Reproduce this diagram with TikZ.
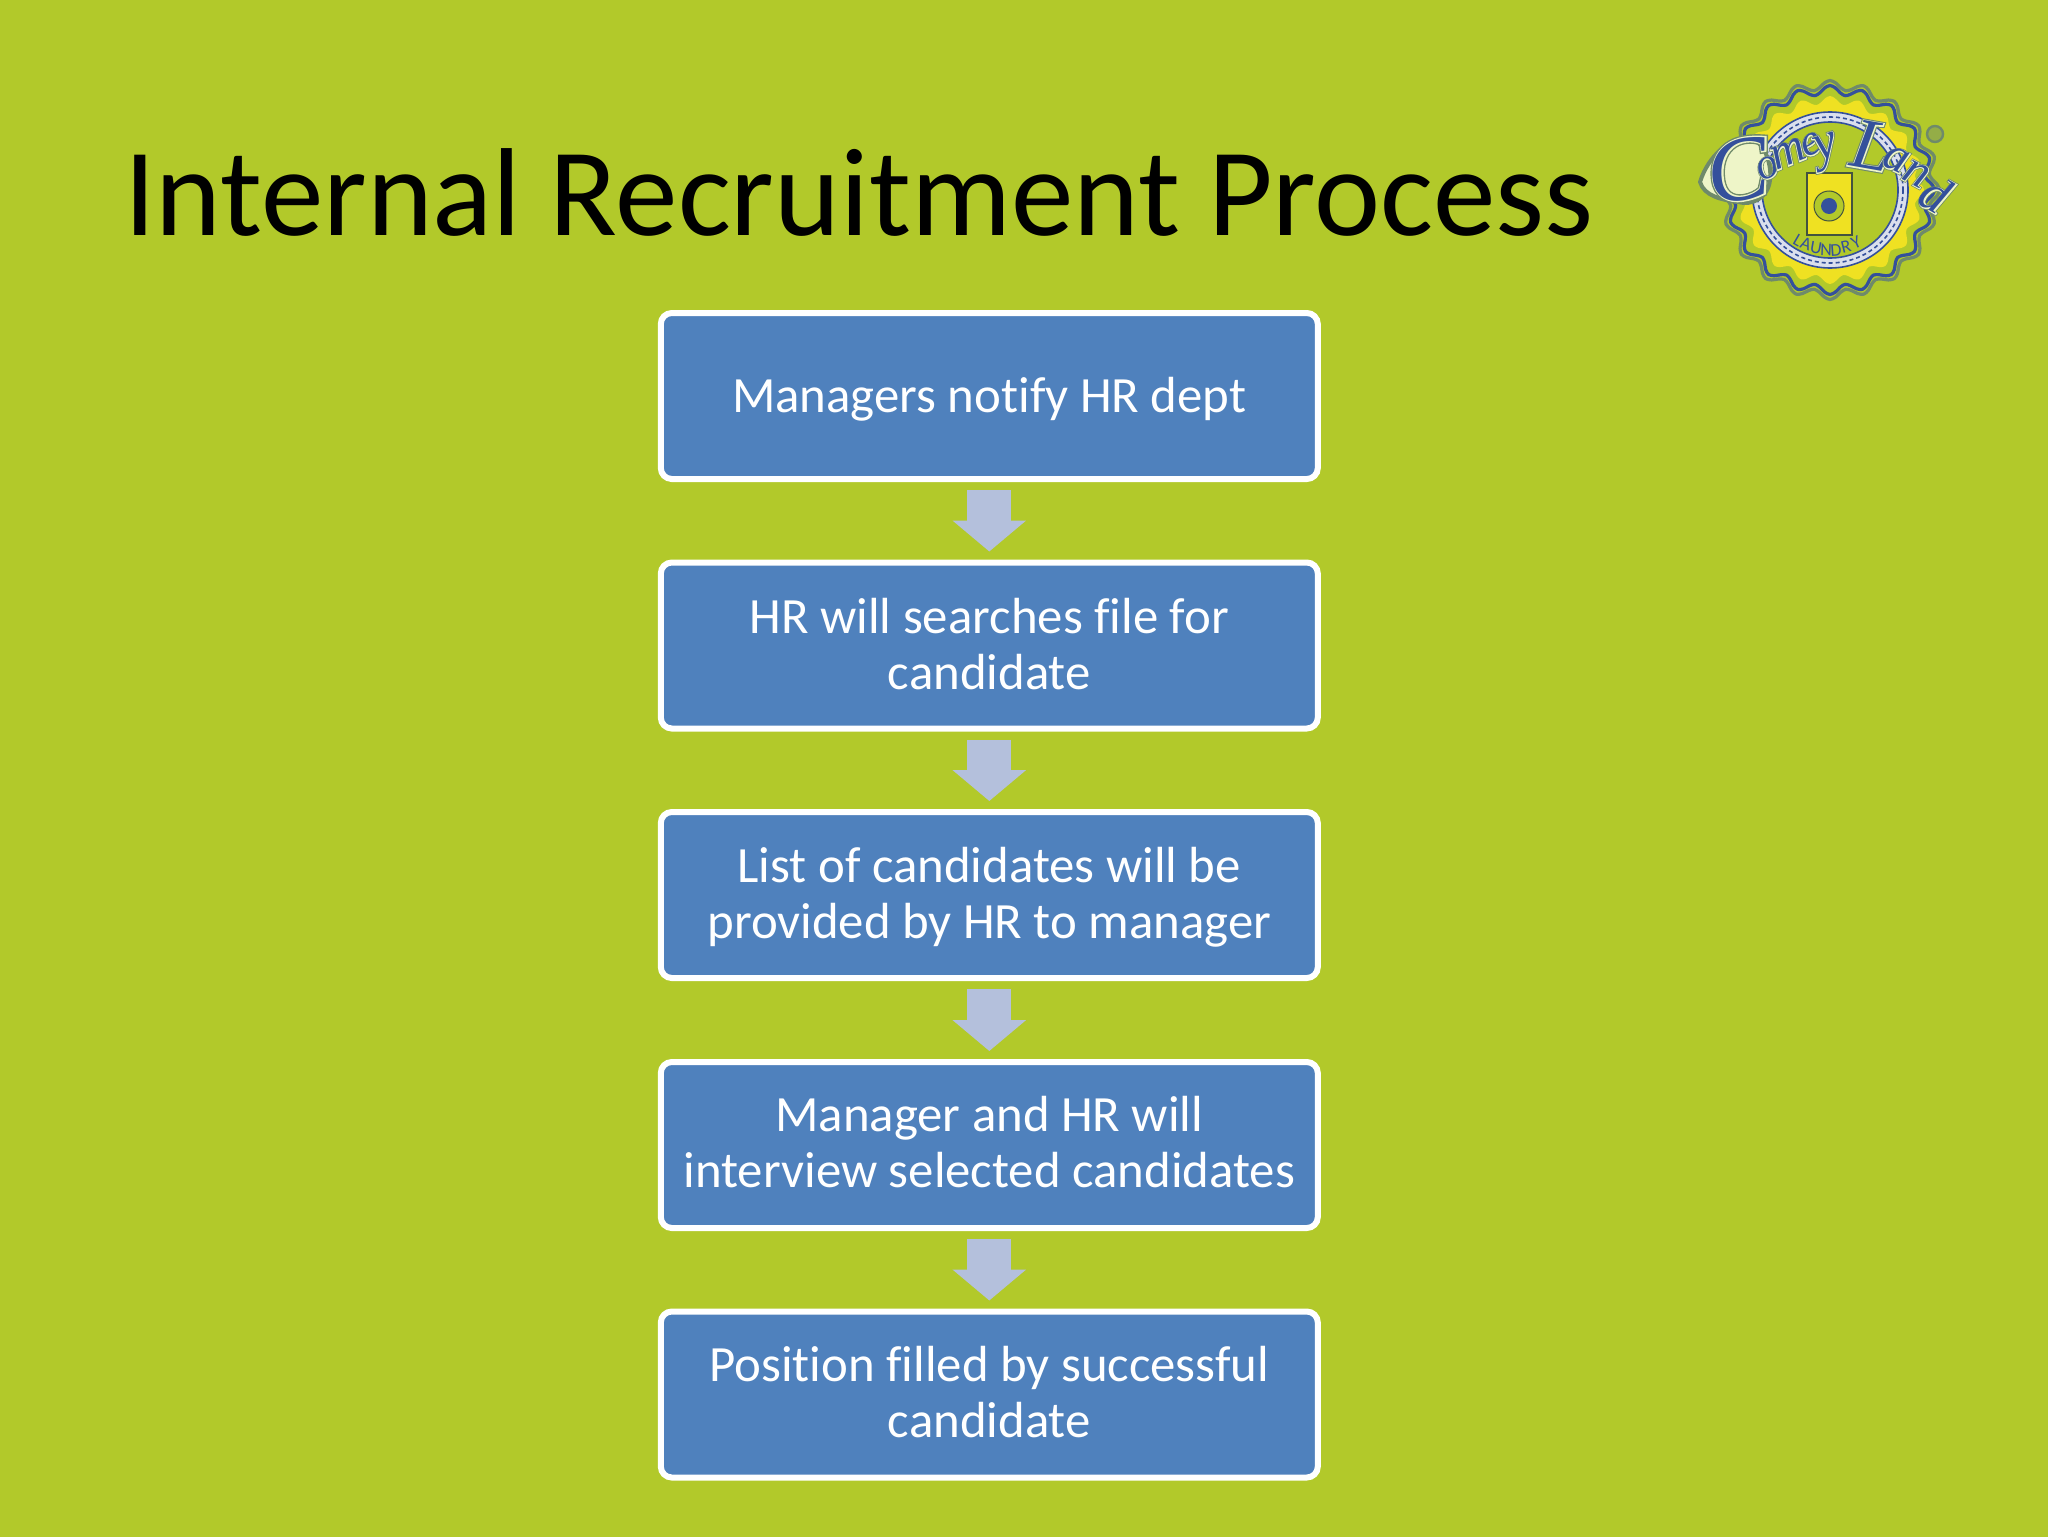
\documentclass[tikz,border=0pt]{standalone}
\usepackage{fontspec}
\setmainfont[Ligatures={NoCommon}]{Carlito}
\newfontfamily\logoscript{Liberation Serif Italic}
\newfontfamily\logoscriptb[FakeBold=3]{Liberation Serif Italic}
\newfontfamily\logoscriptc[FakeBold=6]{Liberation Serif Italic}
\newfontfamily\logosans{Carlito}
\usetikzlibrary{arrows.meta}
\definecolor{slidebg}{HTML}{B2C92A}
\definecolor{boxblue}{HTML}{4F81BD}
\definecolor{arrowblue}{HTML}{B4C0DC}
\definecolor{logoyellow}{HTML}{EFE122}
\definecolor{logoblue}{HTML}{34509C}
\definecolor{logogrey}{HTML}{6F8A6A}
\definecolor{logopale}{HTML}{EEF5C8}
\newcommand{\stagetext}[2]{\raisebox{#1}[0pt][0pt]{\begin{tabular}{@{}c@{}}#2\end{tabular}}}
\newcommand{\logoletter}[5]{%
  \node[inner sep=0pt,rotate=#4,text=logogrey,font=\logoscriptc\fontsize{#5pt}{#5pt}\selectfont] at (#2,#3) {#1};
  \node[inner sep=0pt,rotate=#4,text=logopale,font=\logoscriptb\fontsize{#5pt}{#5pt}\selectfont] at (#2,#3) {#1};
  \node[inner sep=0pt,rotate=#4,text=logoblue,font=\logoscript\fontsize{#5pt}{#5pt}\selectfont] at (#2,#3) {#1};
}
\tikzset{
  stage/.style={draw=white,line width=3pt,fill=boxblue,rounded corners=5.5pt,
    minimum width=328.5pt,minimum height=83pt,inner sep=0pt,text=white,
    font=\fontsize{25.4pt}{28pt}\selectfont},
  flowarrow/.style={draw=arrowblue,line width=22pt,shorten <=4pt,shorten >=4pt,
    -{Triangle[width=36pt,length=15.5pt]}},
  heading/.style={anchor=base west,inner sep=0pt,font=\fontsize{62.6pt}{70pt}\selectfont},
  sealline/.style={line width=1.6pt,line join=round},
}
\begin{document}
\begin{tikzpicture}[x=0.5pt,y=-0.5pt]
\useasboundingbox (0,0) rectangle (2048,1536);
\fill[slidebg] (-6,-6) rectangle (2054,1542);
\node[heading] (title) at (124,235) {Internal Recruitment Process};

\node[stage] (s1) at (989.3,396) {\stagetext{-8.7pt}{Managers notify HR dept}};
\node[stage] (s2) at (989.3,645.5) {\stagetext{-8.4pt}{HR will searches file for\\candidate}};
\node[stage] (s3) at (989.3,895) {\stagetext{-8.4pt}{List of candidates will be\\provided by HR to manager}};
\node[stage] (s4) at (989.3,1145) {\stagetext{-7.7pt}{Manager and HR will\\interview selected candidates}};
\node[stage] (s5) at (989.3,1394.5) {\stagetext{-8pt}{Position filled by successful\\candidate}};
\foreach \a/\b in {s1/s2,s2/s3,s3/s4,s4/s5}
  \draw[flowarrow] (\a.south) -- (\b.north);

% logo
\begin{scope}[shift={(1830,190)}]
  \draw[logogrey,sealline] plot[smooth cycle,domain=0:357,samples=120] (\x:{105+4.5*cos(20*\x)});
  \draw[logoblue,sealline] plot[smooth cycle,domain=0:357,samples=120] (\x:{100+4.5*cos(20*\x)});
  \fill[logoyellow] plot[smooth cycle,domain=0:357,samples=120] (\x:{90+4*cos(20*\x)});
  \draw[logoblue,line width=.8pt,fill=white!82!logoblue] (0,0) circle (78);
  \draw[logoblue,line width=.8pt,dash pattern=on 2pt off 1.5pt] (0,0) circle (73);
  \draw[logoblue,line width=.8pt,fill=slidebg] (0,0) circle (68);
  \draw[logogrey!60!black,line width=.8pt,fill=logoyellow] (-23,-17) rectangle (22,45);
  \draw[logogrey!60!black,line width=.5pt,fill=slidebg] (-1,16) circle (15);
  \fill[logoblue] (-1,16) circle (8);
  \foreach \ch/\px/\py/\rt in {L/-32/50/-30,A/-24/54/-20,U/-14/58/-10,N/-4/60/-2,D/6/60/4,R/16/57/14,Y/26/52/24}
    \node[inner sep=0pt,rotate=\rt,text=logoblue,font=\logosans\fontsize{9pt}{9pt}\selectfont] at (\px,\py) {\ch};
  % swash of the first letter
  \draw[logogrey,line width=2pt,fill=logopale,line join=round]
    (-130,-8) .. controls (-122,-34) and (-100,-52) .. (-84,-52)
    .. controls (-66,-52) and (-58,-26) .. (-60,-10)
    .. controls (-62,8) and (-78,16) .. (-92,12)
    .. controls (-108,10) and (-126,6) .. (-130,-8) -- cycle;
  \logoletter{C}{-92}{-20}{8}{46}
  \logoletter{o}{-62}{-22}{22}{22}
  \logoletter{m}{-42}{-36}{22}{24}
  \logoletter{e}{-19}{-45}{20}{22}
  \logoletter{y}{-3}{-38}{18}{26}
  \logoletter{L}{42}{-44}{-10}{36}
  \logoletter{a}{66}{-30}{-25}{24}
  \logoletter{n}{86}{-16}{-28}{24}
  \logoletter{d}{106}{4}{-30}{26}
  \draw[logogrey,line width=1.2pt,fill=logogrey!45!slidebg] (105,-56) circle (8);
\end{scope}
\end{tikzpicture}
\end{document}
